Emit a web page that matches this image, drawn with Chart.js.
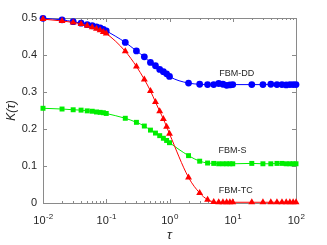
<!DOCTYPE html>
<html>
<head>
    <meta charset="UTF-8">
    <title>K(tau)</title>
    <script src="https://cdn.jsdelivr.net/npm/chart.js@4.4.0/dist/chart.umd.min.js"></script>
    <style type="text/css">
        body { margin: 0; background: #fff; }
        #wrap { width: 327px; height: 245px; }
    </style>
</head>
<body>
    <div id="wrap"><canvas id="c"></canvas></div>
    <script type="text/javascript">
        // tau values (log axis)
        var tau = [0.01, 0.02, 0.03, 0.04, 0.05, 0.06, 0.07, 0.08, 0.09, 0.1,
                   0.2, 0.3, 0.4, 0.5, 0.6, 0.7, 0.8, 0.9, 1,
                   2, 3, 4, 5, 6, 7, 8, 9, 10,
                   20, 30, 40, 50, 60, 70, 80, 90, 100];

        var kDD = [0.499, 0.495, 0.490, 0.486, 0.482, 0.479, 0.476, 0.473, 0.469, 0.465,
                   0.434, 0.411, 0.395, 0.380, 0.371, 0.361, 0.355, 0.349, 0.342,
                   0.324, 0.321, 0.320, 0.320, 0.323, 0.321, 0.318, 0.319, 0.320,
                   0.320, 0.320, 0.321, 0.320, 0.320, 0.319, 0.320, 0.320, 0.320];

        var kS = [0.256, 0.254, 0.252, 0.251, 0.249, 0.248, 0.246, 0.245, 0.244, 0.242,
                  0.229, 0.218, 0.208, 0.197, 0.189, 0.182, 0.175, 0.169, 0.163,
                  0.128, 0.113, 0.108, 0.107, 0.106, 0.106, 0.106, 0.106, 0.106,
                  0.107, 0.106, 0.106, 0.107, 0.107, 0.106, 0.106, 0.106, 0.106];

        var kTC = [0.497, 0.492, 0.488, 0.484, 0.479, 0.475, 0.471, 0.467, 0.462, 0.458,
                   0.410, 0.369, 0.334, 0.303, 0.273, 0.248, 0.227, 0.206, 0.187,
                   0.069, 0.027, 0.009, 0.003, 0.002, 0.002, 0.002, 0.002, 0.002,
                   0.002, 0.002, 0.002, 0.002, 0.002, 0.002, 0.002, 0.002, 0.002];

        var xMajor = [0.01, 0.1, 1, 10, 100];
        var xExp = ["-2", "-1", "0", "1", "2"];
        var yTicks = [0, 0.1, 0.2, 0.3, 0.4, 0.5];

        // curve labels, placed in data coordinates
        var curveNames = ["FBM-DD", "FBM-S", "FBM-TC"];
        var curveLabelAt = [[11.6, 0.351], [9.9, 0.141], [11.2, 0.033]];

        function pts(ys) {
            var out = [];
            for (var i = 0; i < tau.length; i++) out.push({ x: tau[i], y: ys[i] });
            return out;
        }

        var axisColor = "#8a8a8a";
        var textColor = "#262626";
        var fontFam = "'Liberation Sans', Arial, sans-serif";

        var boxPlugin = {
            id: "box",
            beforeDatasetsDraw: function (chart) {
                var ctx = chart.ctx, a = chart.chartArea;
                var xs = chart.scales.x, ys = chart.scales.y;
                ctx.save();
                ctx.strokeStyle = axisColor;
                ctx.lineWidth = 1;
                ctx.strokeRect(Math.round(a.left) + 0.5, Math.round(a.top) + 0.5,
                    Math.round(a.right - a.left), Math.round(a.bottom - a.top));
                ctx.beginPath();
                // x ticks, major and minor, inward at bottom and top
                for (var d = 0; d < 4; d++) {
                    for (var m = 1; m <= 9; m++) {
                        var v = xMajor[d] * m;
                        var px = Math.round(xs.getPixelForValue(v)) + 0.5;
                        var len = (m == 1) ? 4 : 2;
                        ctx.moveTo(px, a.bottom); ctx.lineTo(px, a.bottom - len);
                        ctx.moveTo(px, a.top); ctx.lineTo(px, a.top + len);
                    }
                }
                // y ticks, inward at left and right
                for (var i = 0; i < yTicks.length; i++) {
                    var py = Math.round(ys.getPixelForValue(yTicks[i])) + 0.5;
                    ctx.moveTo(a.left, py); ctx.lineTo(a.left + 4, py);
                    ctx.moveTo(a.right, py); ctx.lineTo(a.right - 4, py);
                }
                ctx.stroke();
                ctx.restore();
            },
            afterDraw: function (chart) {
                var ctx = chart.ctx, a = chart.chartArea;
                var xs = chart.scales.x, ys = chart.scales.y;
                ctx.save();
                ctx.fillStyle = textColor;
                ctx.textBaseline = "alphabetic";
                // x tick labels 10^n
                for (var i = 0; i < xMajor.length; i++) {
                    var px = xs.getPixelForValue(xMajor[i]);
                    ctx.font = "11px " + fontFam;
                    var w1 = ctx.measureText("10").width;
                    ctx.font = "8px " + fontFam;
                    var w2 = ctx.measureText(xExp[i]).width;
                    var x0 = px - (w1 + w2) / 2;
                    ctx.textAlign = "left";
                    ctx.font = "11px " + fontFam;
                    ctx.fillText("10", x0, 224);
                    ctx.font = "8px " + fontFam;
                    ctx.fillText(xExp[i], x0 + w1 + 0.5, 219);
                }
                // curve labels
                ctx.font = "9px " + fontFam;
                ctx.textAlign = "center";
                ctx.textBaseline = "middle";
                for (var k = 0; k < curveNames.length; k++) {
                    ctx.fillText(curveNames[k], xs.getPixelForValue(curveLabelAt[k][0]),
                        ys.getPixelForValue(curveLabelAt[k][1]));
                }
                ctx.restore();
            }
        };

        var chart = new Chart(document.getElementById("c").getContext("2d"), {
            type: "scatter",
            data: {
                datasets: [
                    {
                        label: "FBM-TC",
                        data: pts(kTC),
                        showLine: true,
                        borderColor: "#ff0000",
                        backgroundColor: "#ff0000",
                        borderWidth: 1,
                        pointStyle: "triangle",
                        pointRadius: 4,
                        pointBorderWidth: 0,
                        cubicInterpolationMode: "monotone",
                        clip: false
                    },
                    {
                        label: "FBM-DD",
                        data: pts(kDD),
                        showLine: true,
                        borderColor: "#0000ff",
                        backgroundColor: "#0000ff",
                        borderWidth: 1,
                        pointStyle: "circle",
                        pointRadius: 3.4,
                        pointBorderWidth: 0,
                        cubicInterpolationMode: "monotone",
                        clip: false
                    },
                    {
                        label: "FBM-S",
                        data: pts(kS),
                        showLine: true,
                        borderColor: "#00ee00",
                        backgroundColor: "#00ee00",
                        borderWidth: 1,
                        pointStyle: "rect",
                        pointRadius: 3.5,
                        pointBorderWidth: 0,
                        cubicInterpolationMode: "monotone",
                        clip: false
                    }
                ]
            },
            options: {
                responsive: true,
                maintainAspectRatio: false,
                animation: false,
                layout: { padding: { left: 0, right: 31, top: 18, bottom: 0 } },
                plugins: { legend: { display: false }, tooltip: { enabled: false } },
                scales: {
                    x: {
                        type: "logarithmic",
                        min: 0.01,
                        max: 100,
                        grid: { display: false },
                        border: { display: false },
                        ticks: { display: false },
                        afterFit: function (s) { s.height = 42; },
                        title: {
                            display: true,
                            text: "τ",
                            color: textColor,
                            font: { family: fontFam, size: 13, style: "italic" },
                            padding: { top: 0, bottom: 2 }
                        }
                    },
                    y: {
                        min: 0,
                        max: 0.5,
                        grid: { display: false, drawTicks: false },
                        border: { display: false },
                        afterBuildTicks: function (s) {
                            s.ticks = yTicks.map(function (v) { return { value: v }; });
                        },
                        afterFit: function (s) { s.width = 43; },
                        ticks: {
                            padding: 6,
                            color: textColor,
                            font: { family: fontFam, size: 11 },
                            callback: function (v) { return String(Math.round(v * 10) / 10); }
                        },
                        title: {
                            display: true,
                            text: "K(τ)",
                            color: textColor,
                            font: { family: fontFam, size: 12, style: "italic" },
                            padding: { top: 4, bottom: 0 }
                        }
                    }
                }
            },
            plugins: [boxPlugin]
        });
    </script>
</body>
</html>
